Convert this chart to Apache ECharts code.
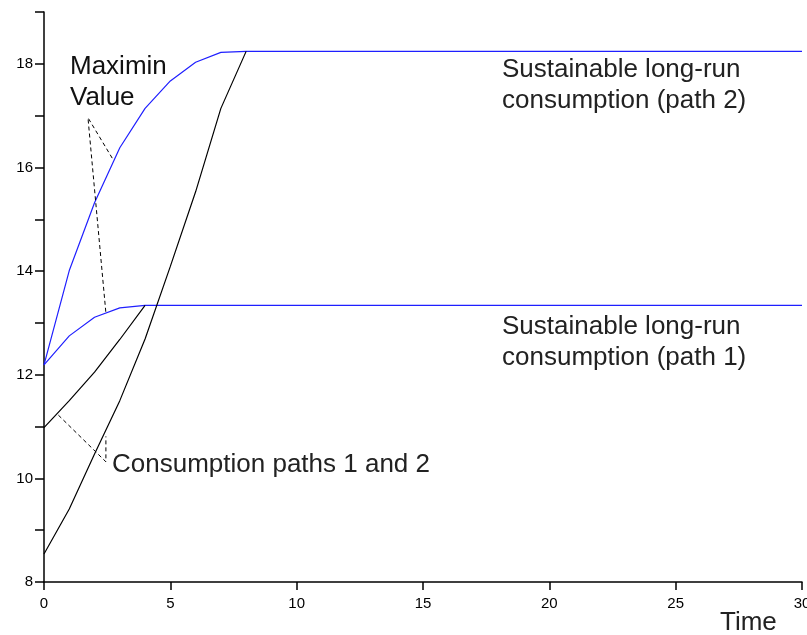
<!DOCTYPE html>
<html>
<head>
<meta charset="utf-8">
<script src="https://cdn.jsdelivr.net/npm/echarts@6/dist/echarts.min.js"></script>
<style>html,body{margin:0;padding:0;background:#fff}#c{width:807px;height:635px}</style>
</head>
<body>
<div id="c"></div>
<script>
// Data
var timeSteps = [0, 1, 2, 3, 4, 5, 6, 7, 8];
var horizonEnd = 30;
var maximinPath2 = [12.19, 14.01, 15.32, 16.38, 17.14, 17.67, 18.03, 18.22, 18.24];
var maximinPath1 = [12.19, 12.75, 13.11, 13.29, 13.34];
var consumptionPath1 = [10.98, 11.50, 12.05, 12.68, 13.34];
var consumptionPath2 = [8.54, 9.41, 10.47, 11.50, 12.69, 14.09, 15.53, 17.14, 18.24];
var maximinPointer = [[2.70, 16.18], [1.74, 16.96], [2.45, 13.19]];
var consumptionPointer = [[0.57, 11.22], [2.45, 10.32], [2.45, 10.81]];
var xTicks = [0, 5, 10, 15, 20, 25, 30];
var yLabels = [8, 10, 12, 14, 16, 18];

function pairs(vals, extendTo) {
  var out = vals.map(function (v, i) { return [timeSteps[i], v]; });
  if (extendTo !== undefined) out.push([extendTo, vals[vals.length - 1]]);
  return out;
}

var FONT = 'Liberation Sans, Arial, sans-serif';
var chart = echarts.init(document.getElementById('c'), null, {renderer: 'canvas'});
chart.setOption({
  animation: false,
  backgroundColor: '#ffffff',
  grid: {left: 44, right: 5, top: 12, bottom: 53, containLabel: false, outerBoundsMode: 'none'},
  xAxis: {
    type: 'value', min: xTicks[0], max: xTicks[xTicks.length - 1], interval: 5,
    axisLine: {show: true, lineStyle: {color: '#000', width: 1.5}},
    axisTick: {show: true, inside: false, length: 8, lineStyle: {color: '#000', width: 1.5}},
    axisLabel: {color: '#000', fontSize: 15, fontFamily: FONT, margin: 14},
    splitLine: {show: false}
  },
  yAxis: {
    type: 'value', min: 8, max: 19, interval: 1,
    axisLine: {show: true, lineStyle: {color: '#000', width: 1.5}},
    axisTick: {show: true, inside: false, length: 9, lineStyle: {color: '#000', width: 1.5}},
    axisLabel: {color: '#000', fontSize: 15, fontFamily: FONT, margin: 11,
      formatter: function (v) { return yLabels.indexOf(v) >= 0 ? String(v) : ''; }},
    splitLine: {show: false}
  },
  series: [
    {type: 'line', data: pairs(maximinPath2, horizonEnd), symbol: 'none', lineStyle: {color: '#1f1fff', width: 1.2}},
    {type: 'line', data: pairs(maximinPath1, horizonEnd), symbol: 'none', lineStyle: {color: '#1f1fff', width: 1.2}},
    {type: 'line', data: pairs(consumptionPath1), symbol: 'none', lineStyle: {color: '#000', width: 1.2}},
    {type: 'line', data: pairs(consumptionPath2), symbol: 'none', lineStyle: {color: '#000', width: 1.2}},
    {type: 'line', data: maximinPointer, symbol: 'none', lineStyle: {color: '#000', width: 1, type: [4, 3]}},
    {type: 'line', data: consumptionPointer, symbol: 'none', lineStyle: {color: '#000', width: 1, type: [4, 3]}}
  ],
  graphic: [
    {type: 'text', left: 70, top: 51, style: {text: 'Maximin\nValue', font: '26px ' + FONT, fill: '#111', lineHeight: 31}},
    {type: 'text', left: 502, top: 54, style: {text: 'Sustainable long-run\nconsumption (path 2)', font: '26px ' + FONT, fill: '#222', lineHeight: 31}},
    {type: 'text', left: 502, top: 311, style: {text: 'Sustainable long-run\nconsumption (path 1)', font: '26px ' + FONT, fill: '#222', lineHeight: 31}},
    {type: 'text', left: 112, top: 452, style: {text: 'Consumption paths 1 and 2', font: '26px ' + FONT, fill: '#222'}},
    {type: 'text', left: 720, top: 610, style: {text: 'Time', font: '26px ' + FONT, fill: '#222'}}
  ]
});
</script>
</body>
</html>
